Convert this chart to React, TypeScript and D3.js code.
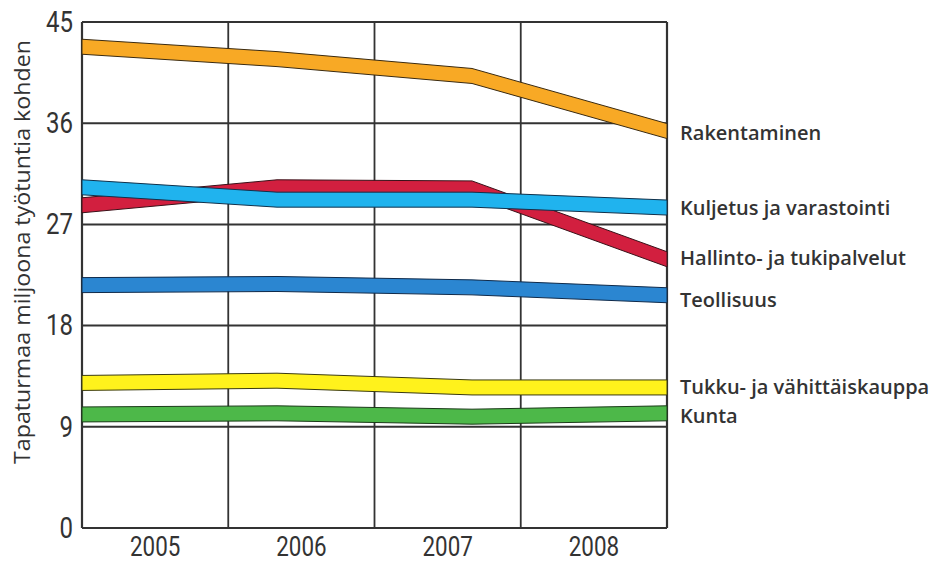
import React from "react";
import * as d3 from "d3";

// Years on the x axis
const years = ["2005", "2006", "2007", "2008"];
// Y axis ticks
const yTicks = [0, 9, 18, 27, 36, 45];

// Accidents per million working hours, by sector
const rakentaminen = [42.8, 41.7, 40.2, 35.3];
const hallinto = [28.7, 30.3, 30.2, 23.9];
const kuljetus = [30.3, 29.2, 29.2, 28.5];
const teollisuus = [21.6, 21.7, 21.4, 20.7];
const tukku = [12.9, 13.1, 12.5, 12.5];
const kunta = [10.1, 10.2, 9.9, 10.2];

const seriesNames = [
  "Rakentaminen",
  "Hallinto- ja tukipalvelut",
  "Kuljetus ja varastointi",
  "Teollisuus",
  "Tukku- ja vähittäiskauppa",
  "Kunta",
];
const seriesValues = [rakentaminen, hallinto, kuljetus, teollisuus, tukku, kunta];
const seriesColors = ["#F8A925", "#D21F3F", "#20B3EE", "#2B86D1", "#FFF21C", "#4DB849"];
const seriesStroke = ["#3a2a10", "#3a1018", "#10304a", "#0f2a4a", "#3a3a10", "#1a3a18"];

const W = 937;
const H = 566;
const left = 82;
const right = 667;
const top = 22;
const bottom = 528;
const halfBand = 7.5;
const ink = "#333";

// Label nudges (px) so stacked labels stay readable
const labelNudge: Record<string, number> = {
  Rakentaminen: 2,
  "Kuljetus ja varastointi": 0,
  "Hallinto- ja tukipalvelut": -1,
  Teollisuus: 5,
  "Tukku- ja vähittäiskauppa": -1,
  Kunta: 2,
};

const numFont = "Roboto, sans-serif";

// Horizontally condensed numeric text
function CondText(props: {
  x: number;
  y: number;
  size: number;
  anchor: "start" | "middle" | "end";
  children: React.ReactNode;
}) {
  return (
    <text
      transform={`translate(${props.x},${props.y}) scale(0.8,1)`}
      textAnchor={props.anchor}
      dy="0.36em"
      fontFamily={numFont}
      fontSize={props.size}
      fill={ink}
    >
      {props.children}
    </text>
  );
}

export default function App() {
  const y = d3.scaleLinear().domain([0, 45]).range([bottom, top]);
  const xBand = d3.scaleBand<string>().domain(years).range([left, right]);
  const xPoint = d3.scalePoint<string>().domain(years).range([left, right]);

  const band = d3
    .area<number>()
    .x((_, i) => xPoint(years[i]) as number)
    .y0((v) => y(v) + halfBand)
    .y1((v) => y(v) - halfBand);

  return (
    <svg
      width={W}
      height={H}
      style={{ position: "absolute", left: 0, top: 0, background: "#fff" }}
    >
      {/* horizontal grid */}
      {yTicks.map((t) => (
        <line
          key={"h" + t}
          x1={left}
          x2={right}
          y1={y(t)}
          y2={y(t)}
          stroke={ink}
          strokeWidth={2}
        />
      ))}
      {/* vertical grid at band boundaries */}
      {years.slice(1).map((yr) => (
        <line
          key={"v" + yr}
          x1={xBand(yr)}
          x2={xBand(yr)}
          y1={top}
          y2={bottom}
          stroke={ink}
          strokeWidth={1.8}
        />
      ))}
      <line x1={left} x2={left} y1={top} y2={bottom} stroke={ink} strokeWidth={2.2} />
      <line x1={right} x2={right} y1={top} y2={bottom} stroke={ink} strokeWidth={2.2} />

      {/* series bands */}
      {seriesValues.map((vals, i) => (
        <path
          key={seriesNames[i]}
          d={band(vals) as string}
          fill={seriesColors[i]}
          stroke={seriesStroke[i]}
          strokeWidth={1}
          strokeLinejoin="round"
        />
      ))}

      {/* y tick labels */}
      {yTicks.map((t) => (
        <CondText key={"yt" + t} x={left - 9} y={y(t) - 1} size={30} anchor="end">
          {t}
        </CondText>
      ))}

      {/* year labels */}
      {years.map((yr) => (
        <CondText
          key={"x" + yr}
          x={(xBand(yr) as number) + xBand.bandwidth() / 2}
          y={bottom + 18}
          size={28}
          anchor="middle"
        >
          {yr}
        </CondText>
      ))}

      {/* y axis title */}
      <text
        transform={`translate(22, ${252}) rotate(-90)`}
        textAnchor="middle"
        dy="0.36em"
        fontFamily="'Open Sans', sans-serif"
        fontSize={21}
        textLength={424}
        lengthAdjust="spacingAndGlyphs"
        fill={ink}
      >
        Tapaturmaa miljoona työtuntia kohden
      </text>

      {/* series labels at line ends */}
      {seriesValues.map((vals, i) => (
        <text
          key={"l" + seriesNames[i]}
          x={right + 13}
          y={y(vals[vals.length - 1]) + labelNudge[seriesNames[i]]}
          dy="0.36em"
          fontFamily="'Open Sans', sans-serif"
          fontWeight={600}
          fontSize={20}
          fill={ink}
        >
          {seriesNames[i]}
        </text>
      ))}
    </svg>
  );
}
